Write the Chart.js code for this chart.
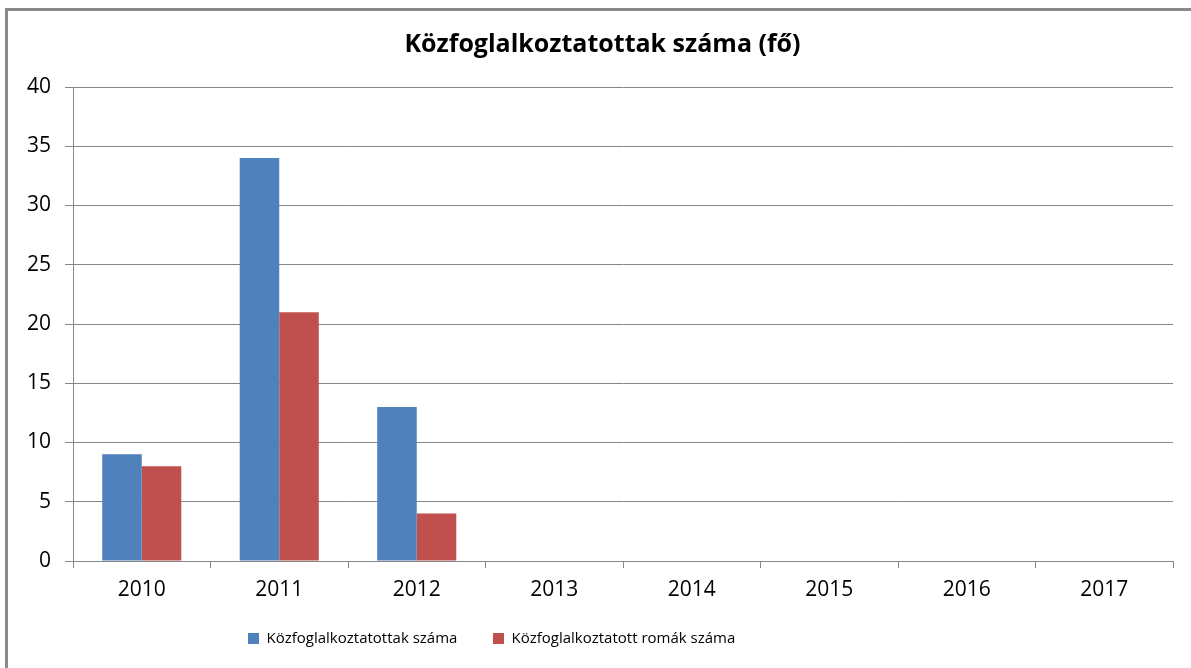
<!DOCTYPE html>
<html>
<head>
<meta charset="utf-8">
<script src="https://cdn.jsdelivr.net/npm/chart.js@4/dist/chart.umd.min.js"></script>
<style>
    html, body { margin: 0; padding: 0; background: #fff; }
    #wrap { position: relative; width: 1191px; height: 668px; overflow: hidden; }
    #keret { position: absolute; left: 5px; top: 8px; right: -10px; bottom: -10px;
             border-left: 3px solid #8a8a8a; border-top: 3px solid #8a8a8a; }
    canvas { position: absolute; left: 0; top: 0; }
</style>
</head>
<body>
<div id="wrap">
    <div id="keret"></div>
    <canvas id="grafico" width="1191" height="668"></canvas>
</div>
<script>
const evek = ["2010", "2011", "2012", "2013", "2014", "2015", "2016", "2017"];
const kozfoglalkoztatottak = [9, 34, 13, 0, 0, 0, 0, 0];
const romak = [8, 21, 4, 0, 0, 0, 0, 0];
const cim = "Közfoglalkoztatottak száma (fő)";
const nevek = ["Közfoglalkoztatottak száma", "Közfoglalkoztatott romák száma"];

const grafico = document.getElementById("grafico");
const betu = "'Open Sans', sans-serif";
const szurke = "#868686";

// the legend and the title sit a bit off-centre in the original
const eltolas = {
    id: "eltolas",
    afterLayout(chart) {
        chart.legend.left += 228;
        chart.legend.right += 228;
        chart.titleBlock.left += 16;
        chart.titleBlock.right += 16;
    }
};

const config = {
    type: "bar",
    data: {
        labels: evek,
        datasets: [
            { label: nevek[0], data: kozfoglalkoztatottak, backgroundColor: "#4f81bd" },
            { label: nevek[1], data: romak, backgroundColor: "#c0504d" }
        ]
    },
    options: {
        responsive: false,
        animation: false,
        datasets: { bar: { categoryPercentage: 0.575, barPercentage: 1.0, borderWidth: 0 } },
        layout: { padding: { left: 0, right: 18, top: 0, bottom: 12 } },
        plugins: {
            title: {
                display: true,
                text: cim,
                color: "#000",
                font: { family: betu, size: 25, weight: "bold" },
                padding: { top: 30, bottom: 27 }
            },
            legend: {
                position: "bottom",
                align: "start",
                labels: {
                    color: "#000",
                    font: { family: betu, size: 15 },
                    boxWidth: 11,
                    boxHeight: 11,
                    padding: 20,
                    generateLabels: function(chart) {
                        const items = Chart.defaults.plugins.legend.labels.generateLabels(chart);
                        items[0].text += "    "; // wider gap between the two items
                        return items;
                    }
                }
            },
            tooltip: { enabled: false }
        },
        scales: {
            x: {
                grid: { offset: true, drawOnChartArea: false, drawTicks: true, tickLength: 7, color: szurke },
                border: { color: szurke },
                ticks: { color: "#000", font: { family: betu, size: 21 }, padding: 9, maxRotation: 0 },
                afterFit: function(scale) { scale.height = 50; }
            },
            y: {
                min: 0,
                max: 40,
                ticks: { stepSize: 5, color: "#000", font: { family: betu, size: 21 }, padding: 14 },
                grid: { color: szurke, tickLength: 8 },
                border: { color: szurke },
                afterFit: function(scale) { scale.width = 73; }
            }
        }
    },
    plugins: [eltolas]
};

const myChart = new Chart(grafico, config);
</script>
</body>
</html>
